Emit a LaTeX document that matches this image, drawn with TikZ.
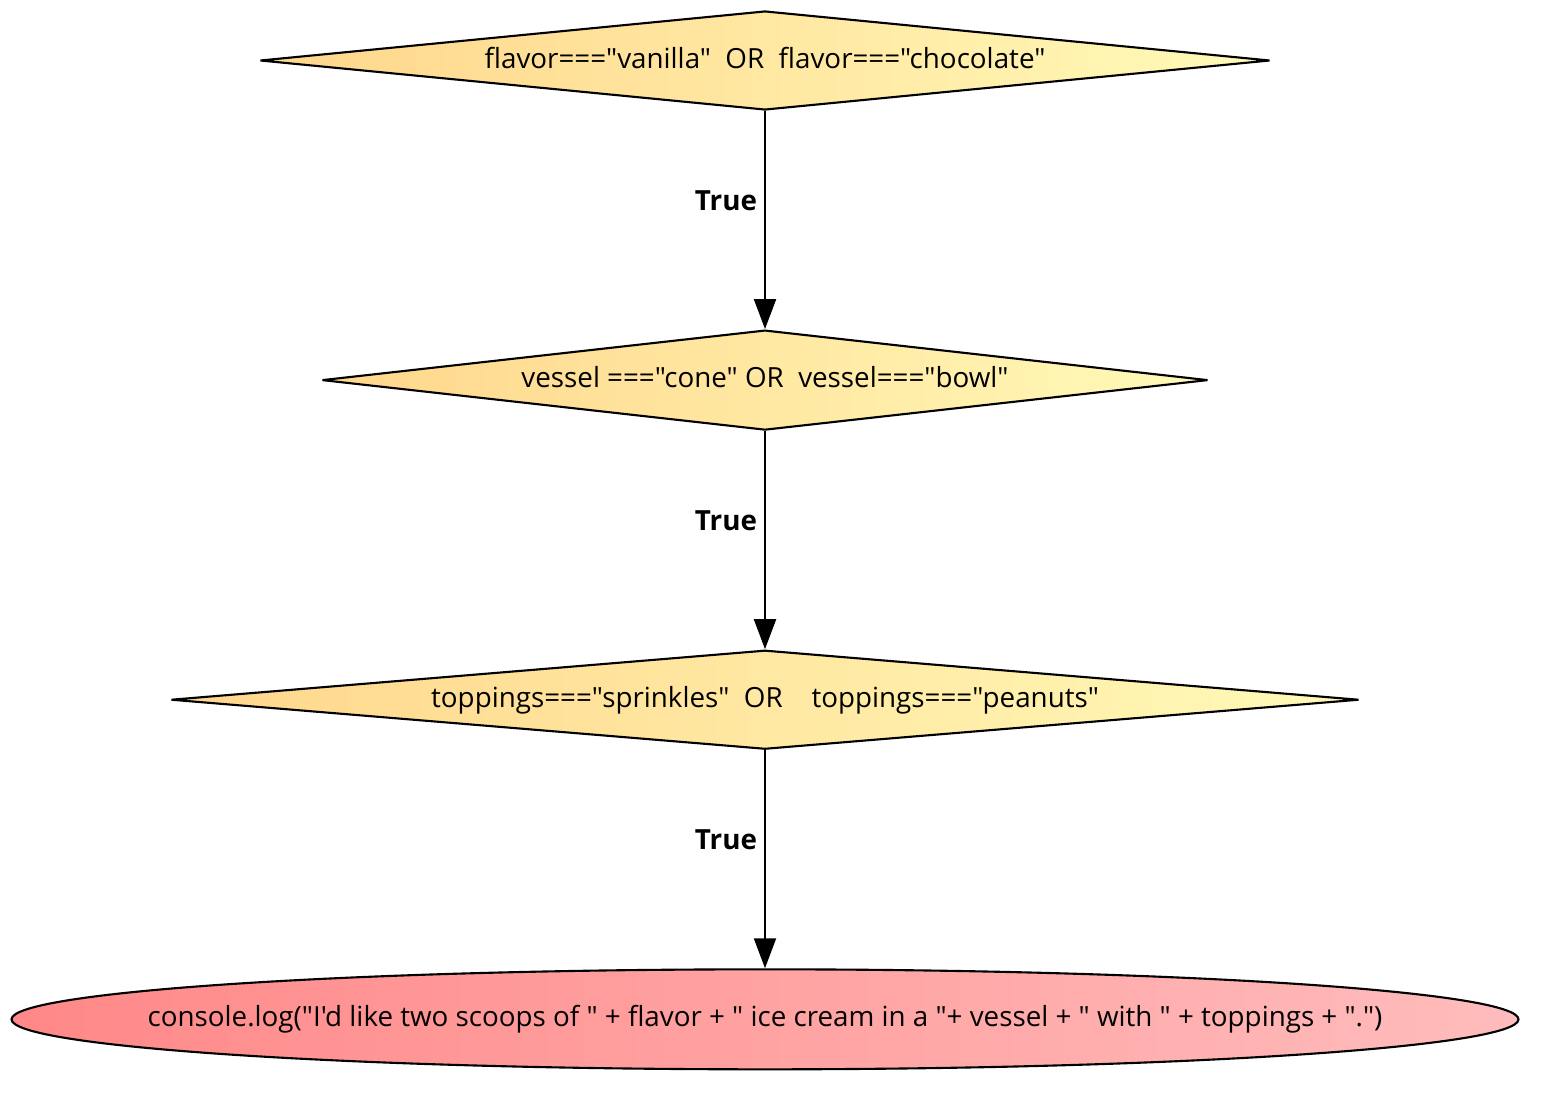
\documentclass[tikz,border=0pt]{standalone}
\usepackage{fontspec}
\usepackage{tikz}
\usetikzlibrary{shapes.geometric, arrows.meta, positioning, calc}
\newfontfamily\gvfont{Open Sans}
\definecolor{lightorange}{RGB}{255, 214, 140}
\definecolor{lightyellow}{RGB}{255, 250, 184}
\definecolor{darkpink}{RGB}{255, 136, 136}
\definecolor{lightpink}{RGB}{255, 188, 188}
\tikzset{
    decision/.style = {diamond, draw=black, line width=0.6pt, line join=bevel, left color=lightorange, right color=lightyellow, inner sep=0pt, text height=0.2cm, text depth=0.05cm, minimum height=0.99cm, font=\gvfont\fontsize{7.9}{9.5}\selectfont},
    terminal/.style = {ellipse, draw=black, line width=0.6pt, left color=darkpink, right color=lightpink, inner sep=0pt, minimum width=15.07cm, minimum height=1cm},
    arrow/.style = {line width=0.6pt, -{Triangle[length=0.3cm, width=0.22cm]}},
    truelabel/.style = {font=\gvfont\bfseries\fontsize{7.9}{9.5}\selectfont, inner sep=0.07cm}
}

\begin{document}
\begin{tikzpicture}[node distance=2.18cm]
\useasboundingbox (0,0) rectangle (15.44,-10.94);
\node (A) [decision, aspect=10.2, minimum width=10.1cm] at (7.65,-0.605) {flavor==="vanilla"\ \ OR\ \ flavor==="chocolate"};
\node (B) [decision, aspect=8.86, minimum width=8.86cm, minimum height=1cm, below=of A] {vessel ==="cone" OR\ \ vessel==="bowl"};
\node (C) [decision, aspect=12, minimum width=11.88cm, below=of B] {toppings==="sprinkles"\ \ OR\ \ \ \ toppings==="peanuts"};
\node (D) [terminal, below=of C, label={[font=\gvfont\fontsize{7.9}{9.5}\selectfont]center:console.log("I\symbol{39}d like two scoops of " + flavor + " ice cream in a "+ vessel + " with " + toppings + ".")}] {};

\draw [arrow] (A) -- node [truelabel, pos=0.41, left] {True} (B);
\draw [arrow] (B) -- node [truelabel, pos=0.41, left] {True} (C);
\draw [arrow] (C) -- node [truelabel, pos=0.41, left] {True} (D);
\end{tikzpicture}
\end{document}
